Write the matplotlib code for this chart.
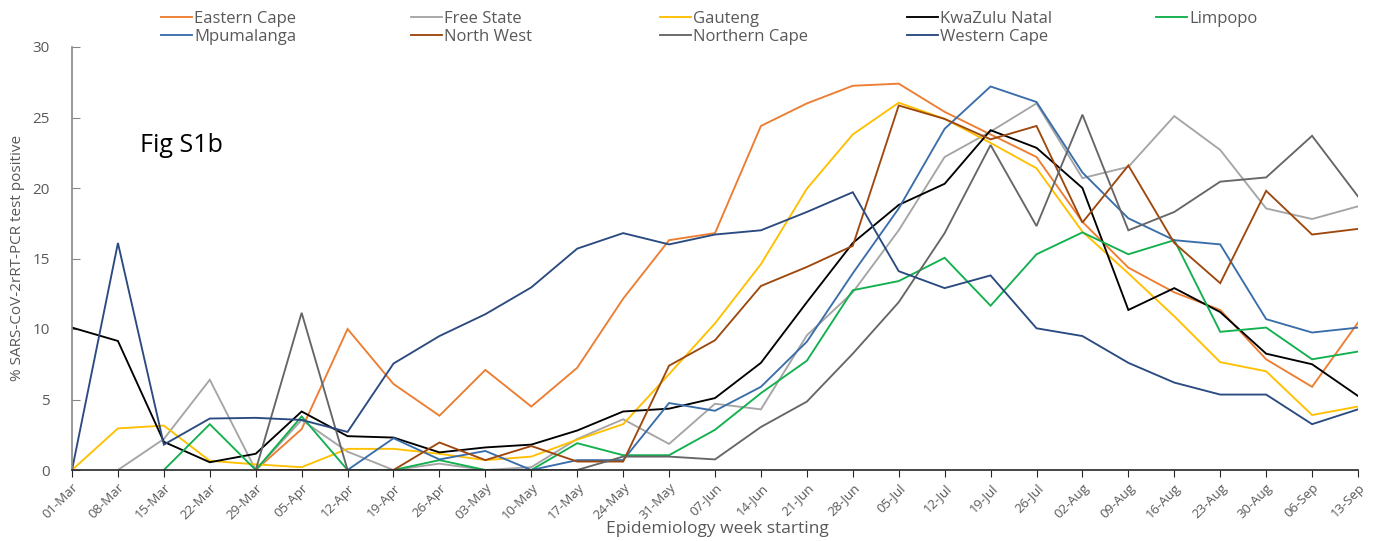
import numpy as np
import matplotlib
matplotlib.use("Agg")
import matplotlib.pyplot as plt

nan = np.nan

weeks = ["01-Mar", "08-Mar", "15-Mar", "22-Mar", "29-Mar", "05-Apr", "12-Apr", "19-Apr",
         "26-Apr", "03-May", "10-May", "17-May", "24-May", "31-May", "07-Jun", "14-Jun",
         "21-Jun", "28-Jun", "05-Jul", "12-Jul", "19-Jul", "26-Jul", "02-Aug", "09-Aug",
         "16-Aug", "23-Aug", "30-Aug", "06-Sep", "13-Sep"]

eastern_cape = [nan, nan, nan, nan, 0, 2.9, 10.0, 6.1, 3.85, 7.1, 4.5, 7.25, 12.15, 16.3, 16.8,
                24.4, 26.0, 27.25, 27.4, 25.4, 23.8, 22.2, 17.6, 14.35, 12.6, 11.35, 7.85, 5.9, 10.45]
free_state = [nan, 0, 2.2, 6.4, 0, 3.55, 1.3, 0, 0.45, 0, 0.2, 2.2, 3.6, 1.85, 4.7,
              4.3, 9.55, 12.6, 17.0, 22.2, 24.0, 26.0, 20.7, 21.5, 25.1, 22.7, 18.55, 17.8, 18.7]
gauteng = [0, 2.95, 3.15, 0.65, 0.4, 0.2, 1.5, 1.5, 1.15, 0.7, 0.95, 2.15, 3.25, 6.8, 10.4,
           14.6, 19.95, 23.8, 26.05, 24.9, 23.2, 21.4, 16.9, 13.95, 10.9, 7.65, 7.0, 3.9, 4.5]
kwazulu_natal = [10.1, 9.15, 2.0, 0.55, 1.15, 4.15, 2.4, 2.3, 1.25, 1.6, 1.8, 2.8, 4.15, 4.35, 5.1,
                 7.6, 11.9, 16.1, 18.8, 20.3, 24.1, 22.85, 20.0, 11.35, 12.9, 11.2, 8.25, 7.5, 5.25]
limpopo = [nan, nan, 0, 3.25, 0, 3.8, 0, 0, 0.7, 0, 0, 1.9, 1.05, 1.05, 2.85,
           5.45, 7.75, 12.75, 13.4, 15.05, 11.65, 15.3, 16.85, 15.3, 16.3, 9.8, 10.1, 7.85, 8.4]
mpumalanga = [nan, nan, nan, nan, nan, nan, 0, 2.25, 0.75, 1.35, 0, 0.7, 0.7, 4.75, 4.2,
              5.9, 9.1, 13.95, 18.55, 24.2, 27.2, 26.1, 21.1, 17.85, 16.3, 16.0, 10.7, 9.75, 10.1]
north_west = [nan, nan, nan, nan, 0, 0, 0, 0, 1.95, 0.7, 1.7, 0.6, 0.6, 7.4, 9.2,
              13.05, 14.4, 15.9, 25.85, 24.9, 23.45, 24.4, 17.55, 21.6, 16.1, 13.25, 19.8, 16.7, 17.1]
northern_cape = [nan, nan, nan, nan, 0, 11.15, 0, 0, 0, 0, 0, 0, 0.95, 0.95, 0.75,
                 3.05, 4.85, 8.25, 11.9, 16.8, 23.05, 17.3, 25.2, 17.0, 18.3, 20.45, 20.75, 23.7, 19.4]
western_cape = [0, 16.1, 1.8, 3.65, 3.7, 3.55, 2.7, 7.55, 9.5, 11.05, 12.95, 15.7, 16.8, 16.0, 16.7,
                17.0, 18.3, 19.7, 14.1, 12.9, 13.8, 10.05, 9.5, 7.6, 6.2, 5.35, 5.35, 3.25, 4.3]

series = [
    ("Eastern Cape", eastern_cape, "#ED7D31"),
    ("Free State", free_state, "#A5A5A5"),
    ("Gauteng", gauteng, "#FFC000"),
    ("KwaZulu Natal", kwazulu_natal, "#000000"),
    ("Limpopo", limpopo, "#12B04E"),
    ("Mpumalanga", mpumalanga, "#3A6EAA"),
    ("North West", north_west, "#9E480E"),
    ("Northern Cape", northern_cape, "#666666"),
    ("Western Cape", western_cape, "#2B4A80"),
]

plt.rcParams["font.family"] = ["Open Sans", "DejaVu Sans"]
TXT = "#595959"
W, H = 1377, 541

fig = plt.figure(figsize=(W / 100, H / 100), dpi=100)
ax = fig.add_axes([72 / W, 1 - 470 / H, (1358 - 72) / W, (470 - 47) / H])

x = np.arange(len(weeks))
lines = {}
for name, vals, col in series:
    (ln,) = ax.plot(x, vals, color=col, lw=1.35, label=name, solid_joinstyle="miter")
    lines[name] = ln

ax.set_xlim(0, len(weeks) - 1)
ax.set_ylim(0, 30)
ax.set_yticks(range(0, 31, 5))
ax.set_xticks(x)
ax.set_xticklabels(weeks, rotation=45, ha="right", rotation_mode="anchor", color=TXT, fontsize=9.5)
ax.tick_params(axis="y", direction="in", length=6, pad=16, colors="#868686", labelcolor=TXT, labelsize=11)
ax.tick_params(axis="x", direction="out", length=5, pad=3, color="#262626")

for s in ["top", "right"]:
    ax.spines[s].set_visible(False)
ax.spines["left"].set_color("#868686")
ax.spines["bottom"].set_color("#262626")
ax.spines["left"].set_linewidth(1.2)
ax.spines["bottom"].set_linewidth(1.2)

fig.text(717 / W, 1 - 529 / H, "Epidemiology week starting", ha="center", va="center",
         color=TXT, fontsize=12.5)
fig.text(18 / W, 1 - 258 / H, "% SARS-CoV-2rRT-PCR test positive", rotation=90,
         ha="center", va="center", color=TXT, fontsize=11)

fig.text(140 / W, 1 - 145 / H, "Fig S1b", ha="left", va="center", fontsize=18, color="black")

# legend laid out as a 5-column grid, one small legend per column
legend_cols = [
    ["Eastern Cape", "Mpumalanga"],
    ["Free State", "North West"],
    ["Gauteng", "Northern Cape"],
    ["KwaZulu Natal", "Western Cape"],
    ["Limpopo"],
]
col_x = [161, 411, 660, 907, 1156]
for names, cx in zip(legend_cols, col_x):
    leg = fig.legend([lines[n] for n in names], names, loc="upper left",
                     bbox_to_anchor=(cx / W, 1 - 11 / H), frameon=False, fontsize=12,
                     handlelength=1.85, handletextpad=0.15, labelspacing=0.1,
                     borderpad=0, borderaxespad=0)
    for t in leg.get_texts():
        t.set_color(TXT)

fig.savefig("out.png", dpi=100)
